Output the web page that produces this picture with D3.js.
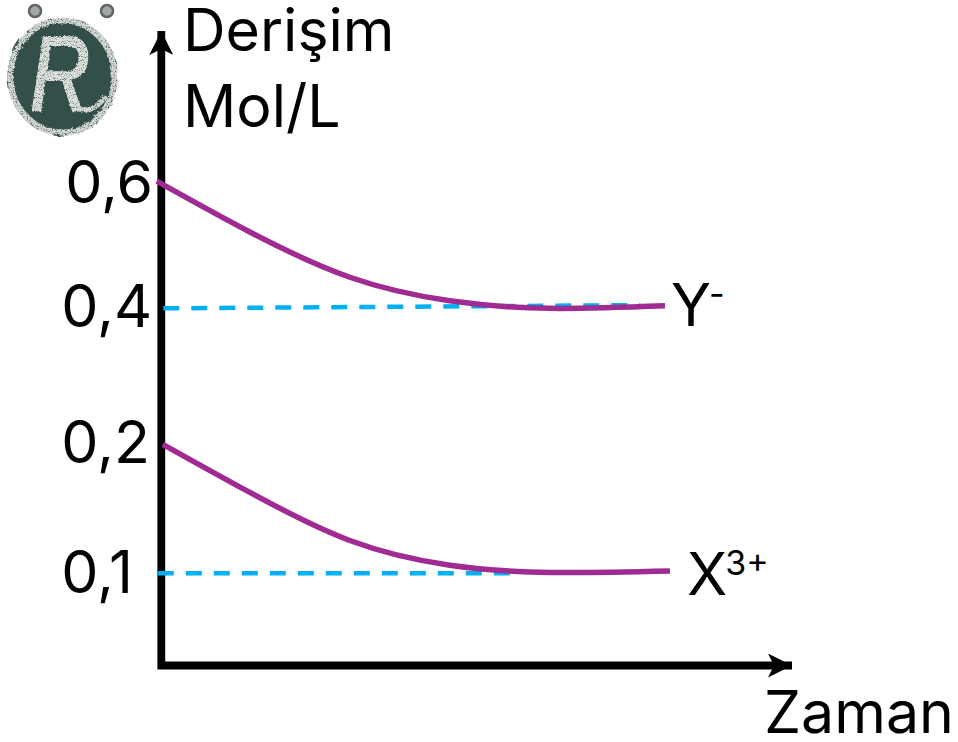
<!DOCTYPE html>
<html>
<head>
<meta charset="utf-8">
<script src="https://d3js.org/d3.v7.min.js"></script>
<style>
body{margin:0;background:#fff;}
svg{display:block;}
text{font-family:Inter,"Open Sans",sans-serif;fill:#000;}
</style>
</head>
<body>
<script>
// values, y axis is not linear in the original
var yTicks=[0.1,0.2,0.4,0.6];
var yTickLabels=["0,1","0,2","0,4","0,6"];
var yStops=[0,0.1,0.2,0.4,0.6,0.845];
var timeEnd=12.61;

var ionYTime=[-0.09,1.77,3.77,5.77,7.77,10.07];
var ionYConc=[0.603,0.521,0.448,0.410,0.398,0.402];
var ionXTime=[0.03,1.77,3.77,5.77,7.77,10.17];
var ionXConc=[0.199,0.162,0.125,0.106,0.1004,0.1015];

var dashYTime=[0.04,9.58];
var dashYConc=[0.398,0.403];
var dashXTime=[-0.07,7.2];
var dashXConc=[0.0998,0.0998];

var width=958,height=742;
var svg=d3.select("body").append("svg")
          .attr("width",width)
          .attr("height",height);

var xScale=d3.scaleLinear()
             .domain([0,timeEnd])
             .range([161.3,792]);
var yScale=d3.scaleLinear()
             .domain(yStops)
             .range([665.5,573,443,307,183,31]);

var defs=svg.append("defs");
var rough=defs.append("filter").attr("id","chalk")
              .attr("x","-20%").attr("y","-20%").attr("width","140%").attr("height","140%");
rough.append("feTurbulence").attr("type","fractalNoise").attr("baseFrequency",0.3)
     .attr("numOctaves",3).attr("seed",4).attr("result","n");
rough.append("feDisplacementMap").attr("in","SourceGraphic").attr("in2","n").attr("scale",4).attr("result","d");
rough.append("feTurbulence").attr("type","fractalNoise").attr("baseFrequency",0.8)
     .attr("numOctaves",2).attr("seed",12).attr("result","s");
rough.append("feColorMatrix").attr("in","s").attr("type","matrix")
     .attr("values","0 0 0 0 0  0 0 0 0 0  0 0 0 0 0  3.2 0 0 0 -0.55").attr("result","a");
rough.append("feComposite").attr("in","d").attr("in2","a").attr("operator","in");
var board=defs.append("filter").attr("id","board")
              .attr("x","-10%").attr("y","-10%").attr("width","120%").attr("height","120%");
board.append("feTurbulence").attr("type","fractalNoise").attr("baseFrequency",0.09)
     .attr("numOctaves",2).attr("seed",9).attr("result","n");
board.append("feDisplacementMap").attr("in","SourceGraphic").attr("in2","n").attr("scale",5);

//the logo top left
var logo=svg.append("g").classed("logo",true);
logo.append("ellipse").attr("cx",62.5).attr("cy",76.5).attr("rx",55).attr("ry",59)
    .attr("fill","#30504a").attr("filter","url(#board)");
logo.append("ellipse").attr("cx",62.5).attr("cy",76.5).attr("rx",52).attr("ry",56)
    .attr("fill","none").attr("stroke","#d3d6d2").attr("stroke-width",6).attr("filter","url(#chalk)");
logo.selectAll("circle").data([35,107]).enter().append("circle")
    .attr("cx",function(d){return d;}).attr("cy",11).attr("r",6)
    .attr("fill","#a3a8a4").attr("stroke","#5f6662").attr("stroke-width",2.5);
logo.append("text").attr("transform","translate(30,110) scale(0.8,1.02)")
    .attr("font-size",104).style("font-family","Liberation Sans").style("font-style","italic")
    .style("fill","#dcdfdb").style("stroke","#dcdfdb").style("stroke-width",2).attr("filter","url(#chalk)")
    .text("R");
logo.append("path").attr("d","M78,108Q92,115 106,96")
    .attr("fill","none").attr("stroke","#d3d6d2").attr("stroke-width",5).attr("filter","url(#chalk)");

//axes
var yAxis=d3.axisLeft(yScale).tickValues(yTicks).tickSize(0)
            .tickFormat(function(d,i){return yTickLabels[i];});
var yG=svg.append("g").classed("yAxis",true)
          .attr("transform","translate("+xScale(0)+",0)")
          .call(yAxis);
yG.select(".domain").remove();
yG.selectAll("text")
  .style("font-size","59px")
  .attr("text-anchor","start")
  .attr("dy","0.33em")
  .attr("x",function(d){return d==0.6?-96:-100;});

var axisLine=d3.line()
               .x(function(d){return xScale(d[0]);})
               .y(function(d){return yScale(d[1]);});

var arrow=defs.append("marker").attr("id","arrow")
              .attr("viewBox","0 0 24 24").attr("refX",24).attr("refY",12)
              .attr("markerWidth",24).attr("markerHeight",24)
              .attr("markerUnits","userSpaceOnUse").attr("orient","auto-start-reverse");
arrow.append("path").attr("d","M0,0L24,12L0,24L6,12Z").attr("fill","#000");

svg.append("path").classed("axes",true)
   .attr("d",axisLine([[0,yStops[5]],[0,0],[timeEnd,0]]))
   .attr("fill","none").attr("stroke","#000").attr("stroke-width",7.8)
   .attr("stroke-linejoin","miter")
   .attr("marker-start","url(#arrow)").attr("marker-end","url(#arrow)");

//dashed guides
var dashes=[{t:dashYTime,c:dashYConc},{t:dashXTime,c:dashXConc}];
svg.selectAll(".guide").data(dashes).enter().append("path")
   .classed("guide",true)
   .attr("d",function(d){return axisLine(d.t.map(function(v,i){return [v,d.c[i]];}));})
   .attr("fill","none").attr("stroke","#00b0f0").attr("stroke-width",4.5)
   .attr("stroke-dasharray","16,12");

//the two curves
var curve=d3.line()
            .x(function(d){return xScale(d[0]);})
            .y(function(d){return yScale(d[1]);})
            .curve(d3.curveNatural);
var series=[{t:ionYTime,c:ionYConc},{t:ionXTime,c:ionXConc}];
svg.selectAll(".ion").data(series).enter().append("path")
   .classed("ion",true)
   .attr("d",function(d){return curve(d.t.map(function(v,i){return [v,d.c[i]];}));})
   .attr("fill","none").attr("stroke","#a02b93").attr("stroke-width",5.5);

//labels
var labels=[
  {s:"Derişim",x:183,y:51},
  {s:"Mol/L",x:183,y:127},
  {s:"Zaman",x:764,y:733},
  {s:"Y",sup:"-",x:671,y:326},
  {s:"X",sup:"3+",x:687,y:595}
];
var labelText=svg.selectAll(".label").data(labels).enter().append("text")
   .classed("label",true)
   .attr("x",function(d){return d.x;})
   .attr("y",function(d){return d.y;})
   .attr("font-size",59)
   .text(function(d){return d.s;});
labelText.filter(function(d){return d.sup;})
   .append("tspan")
   .attr("font-size",34)
   .attr("dx",-2)
   .attr("dy",-20)
   .text(function(d){return d.sup;});
</script>
</body>
</html>
